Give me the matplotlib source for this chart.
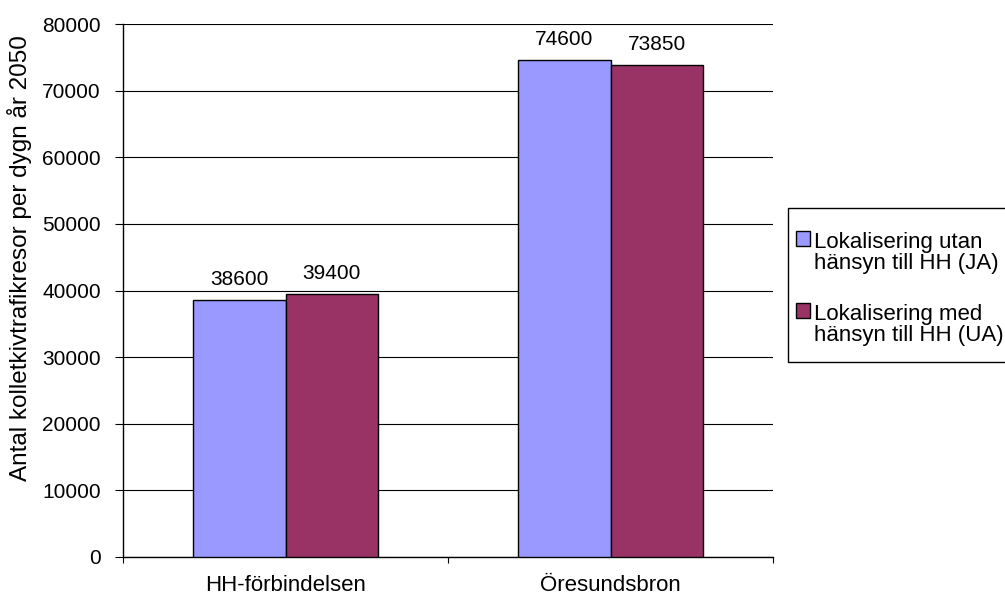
import matplotlib
matplotlib.use("Agg")
import matplotlib.pyplot as plt
import numpy as np
from matplotlib.patches import Patch, Rectangle
from matplotlib.legend_handler import HandlerPatch

categories = ["HH-förbindelsen", "Öresundsbron"]
series_names = ["Lokalisering utan\nhänsyn till HH (JA)", "Lokalisering med\nhänsyn till HH (UA)"]
ja_values = [38600, 74600]
ua_values = [39400, 73850]
yticks = [0, 10000, 20000, 30000, 40000, 50000, 60000, 70000, 80000]
colors = ["#9999FF", "#993366"]

plt.rcParams['font.family'] = ['Liberation Sans', 'DejaVu Sans']
FS = 15

fig = plt.figure(figsize=(10.05, 5.99), dpi=100)
ax = fig.add_axes([123/1005, 1-557/599, (773-123)/1005, (557-24)/599])

x = np.arange(len(categories))
w = 0.285
for i, (vals, c) in enumerate(zip([ja_values, ua_values], colors)):
    pos = x + (i - 0.5) * w
    ax.bar(pos, vals, width=w, color=c, edgecolor="black", linewidth=1, zorder=3)
    for p, v in zip(pos, vals):
        ax.annotate(f"{v}", (p, v), xytext=(0, 8), textcoords="offset points",
                    ha="center", va="bottom", fontsize=FS)

ax.set_xlim(-0.5, 1.5)
ax.set_ylim(0, 80000)
ax.set_yticks(yticks)
ax.set_yticklabels([str(t) for t in yticks], fontsize=FS)
ax.yaxis.grid(True, color="black", linewidth=0.8, zorder=0)
ax.set_axisbelow(True)
ax.set_xticks([-0.5, 0.5, 1.5])
ax.set_xticklabels([])
ax.set_xticks(x, minor=True)
ax.set_xticklabels(categories, minor=True, fontsize=16)
ax.tick_params(axis="x", which="minor", length=0, pad=13)
ax.tick_params(axis="x", which="major", length=4.5, direction="out", color="black")
ax.tick_params(axis="y", length=6, direction="out", pad=10)
for s in ["top", "right"]:
    ax.spines[s].set_visible(False)
for s in ["left", "bottom"]:
    ax.spines[s].set_color("black")
    ax.spines[s].set_linewidth(1)

fig.text(20/1005, 1-258/599, "Antal kolletkivtrafikresor per dygn år 2050", rotation=90,
         ha="center", va="center", fontsize=17.5)

# legend frame
fig.patches.append(Rectangle((788/1005, 1-362/599), (1010-788)/1005, (362-208)/599,
                             transform=fig.transFigure, facecolor="white",
                             edgecolor="black", linewidth=1, zorder=0))


def make_box(legend, orig_handle, xdescent, ydescent, width, height, fontsize):
    return Rectangle((-xdescent, -ydescent + 10.5), width, height)


handles = [Patch(facecolor=c, edgecolor="black", linewidth=1) for c in colors]
leg = fig.legend(handles, series_names, loc="upper left",
                 bbox_to_anchor=(796/1005, 1-232/599), fontsize=16, frameon=False,
                 handlelength=0.65, handleheight=0.65,
                 handletextpad=0.15, labelspacing=1.35, borderpad=0, borderaxespad=0,
                 handler_map={Patch: HandlerPatch(patch_func=make_box)})
for t in leg.get_texts():
    t.set_linespacing(1.0)

fig.savefig("out.png", dpi=100)
